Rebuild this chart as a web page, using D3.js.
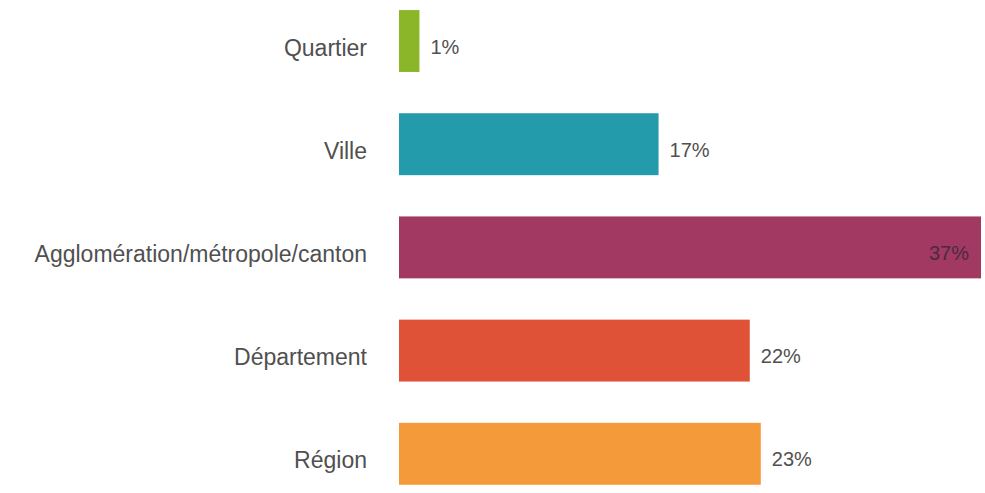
<!DOCTYPE html>
<html><head><meta charset="utf-8">
<script src="https://cdn.jsdelivr.net/npm/d3@7"></script>
<style>body{margin:0;background:#fff;} text{font-family:"Liberation Sans",Arial,sans-serif;}</style>
</head><body><svg id="c" width="985" height="493"></svg>
<script>
const categories = ["Quartier","Ville","Agglomération/métropole/canton","Département","Région"];
const values = [1.3, 16.5, 37.0, 22.3, 23.0];
const valueLabels = ["1%","17%","37%","22%","23%"];
const colors = ["#8cb62a","#239bab","#a23963","#e05237","#f59a3b"];

const svg = d3.select("#c");
const x = d3.scaleLinear().domain([0, 37]).range([399, 981]);
const y = d3.scaleBand().domain(categories).range([-10.6, 505.4]).paddingInner(0.4).paddingOuter(0.2);

svg.selectAll("rect.bar").data(categories).join("rect")
  .attr("x", x(0)).attr("y", d => y(d))
  .attr("width", (d,i) => x(values[i]) - x(0))
  .attr("height", y.bandwidth())
  .attr("fill", (d,i) => colors[i]);

svg.selectAll("text.cat").data(categories).join("text")
  .attr("x", 367).attr("y", d => y(d) + y.bandwidth()/2 + 14.5)
  .attr("text-anchor", "end")
  .attr("font-size", 23).attr("fill", "#505050")
  .text(d => d);

svg.selectAll("text.val").data(categories).join("text")
  .attr("x", (d,i) => i === 2 ? x(values[i]) - 12 : x(values[i]) + 11)
  .attr("y", d => y(d) + y.bandwidth()/2 + 12.5)
  .attr("text-anchor", (d,i) => i === 2 ? "end" : "start")
  .attr("font-size", 20)
  .attr("fill", (d,i) => i === 2 ? "#4a2a42" : "#505050")
  .text((d,i) => valueLabels[i]);
</script></body></html>
